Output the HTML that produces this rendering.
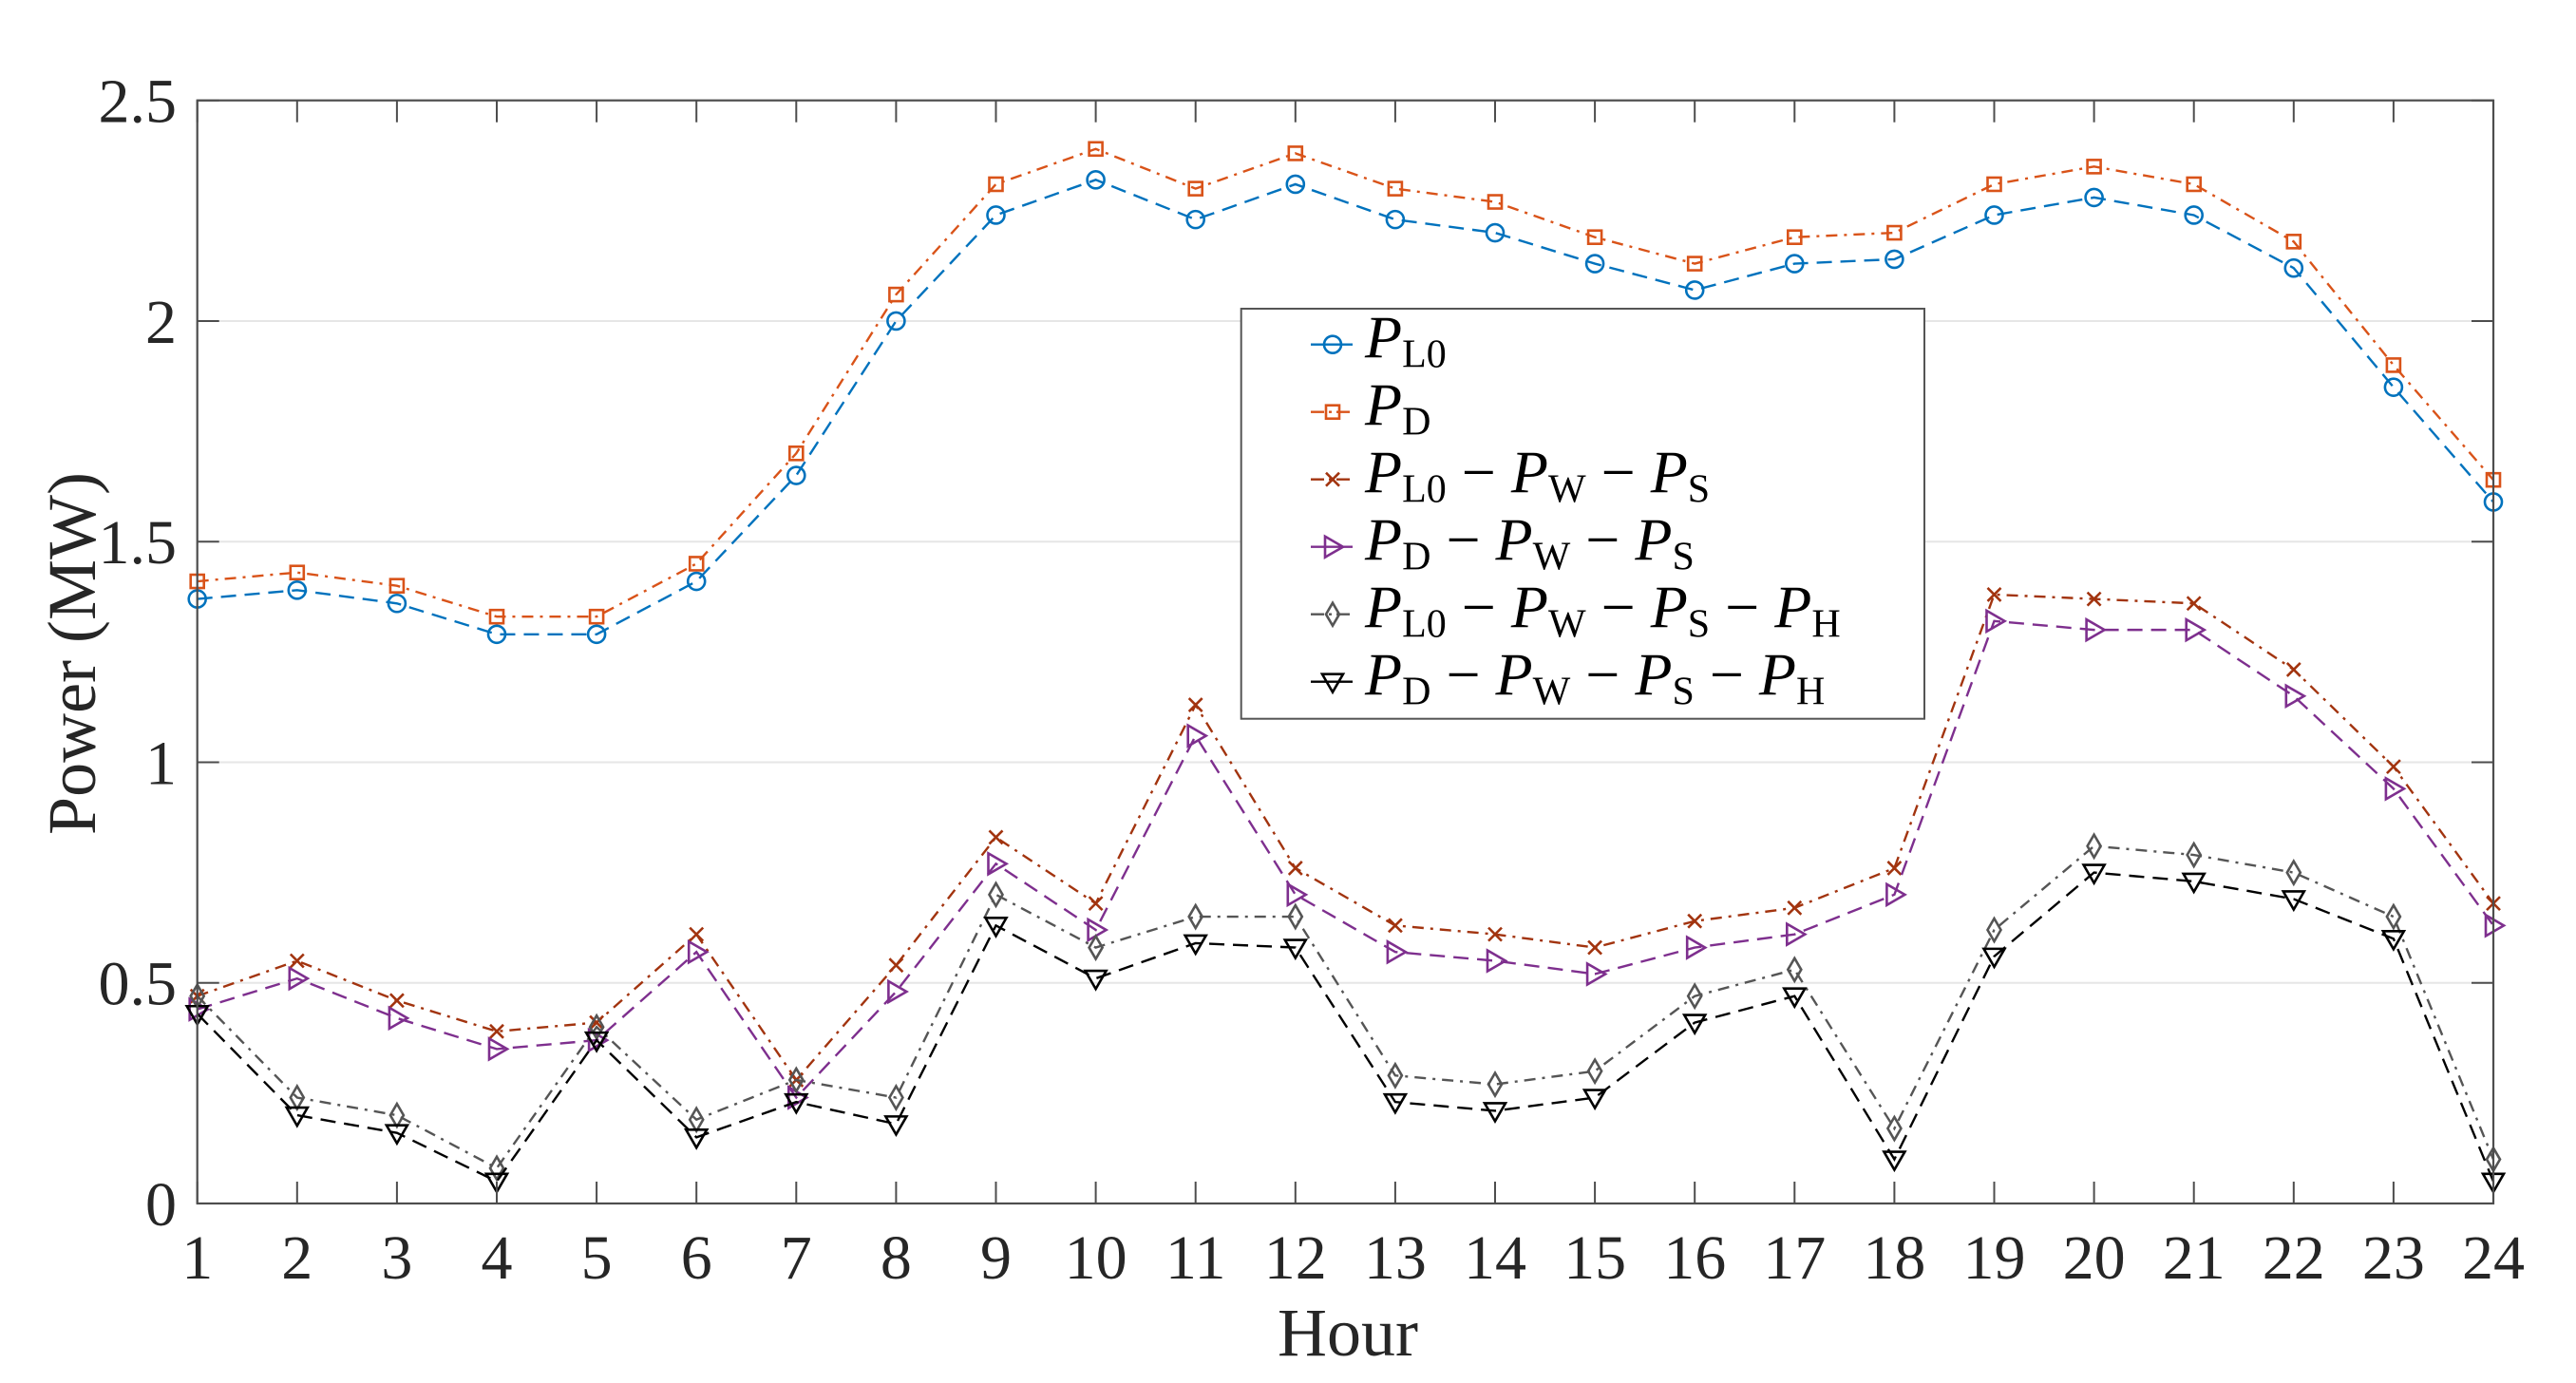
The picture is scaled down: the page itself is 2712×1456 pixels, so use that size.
<!DOCTYPE html>
<html><head><meta charset="utf-8"><style>
html,body{margin:0;padding:0;background:#fff;}
svg{display:block;}
text{font-family:"Liberation Serif","Times New Roman",serif;}
</style></head><body>
<svg id="chart" width="2712" height="1456" viewBox="0 0 2712 1456" xmlns="http://www.w3.org/2000/svg" font-family="Liberation Serif, serif">
<rect x="0" y="0" width="2712" height="1456" fill="#fff"/>
<g id="grid"></g>
<g id="series"></g>
<g id="axes"></g>
<text x="1419" y="1427" font-size="72" text-anchor="middle" fill="#262626">Hour</text>
<text transform="translate(100,688) rotate(-90)" font-size="72" text-anchor="middle" fill="#262626">Power (MW)</text>
<g id="legend"></g>
</svg>
<script>
const hours = [1,2,3,4,5,6,7,8,9,10,11,12,13,14,15,16,17,18,19,20,21,22,23,24];
const pL0 = [1.37,1.39,1.36,1.29,1.29,1.41,1.65,2.00,2.24,2.32,2.23,2.31,2.23,2.20,2.13,2.07,2.13,2.14,2.24,2.28,2.24,2.12,1.85,1.59];
const pD = [1.41,1.43,1.40,1.33,1.33,1.45,1.70,2.06,2.31,2.39,2.30,2.38,2.30,2.27,2.19,2.13,2.19,2.20,2.31,2.35,2.31,2.18,1.90,1.64];
const pL0WS = [0.47,0.55,0.46,0.39,0.41,0.61,0.28,0.54,0.83,0.68,1.13,0.76,0.63,0.61,0.58,0.64,0.67,0.76,1.38,1.37,1.36,1.21,0.99,0.68];
const pDWS = [0.44,0.51,0.42,0.35,0.37,0.57,0.24,0.48,0.77,0.62,1.06,0.70,0.57,0.55,0.52,0.58,0.61,0.70,1.32,1.30,1.30,1.15,0.94,0.63];
const pL0WSH = [0.47,0.24,0.20,0.08,0.40,0.19,0.28,0.24,0.70,0.58,0.65,0.65,0.29,0.27,0.30,0.47,0.53,0.17,0.62,0.81,0.79,0.75,0.65,0.10];
const pDWSH = [0.43,0.20,0.16,0.05,0.37,0.15,0.23,0.18,0.63,0.51,0.59,0.58,0.23,0.21,0.24,0.41,0.47,0.10,0.56,0.75,0.73,0.69,0.60,0.05];
const yTicks = [0,0.5,1,1.5,2,2.5];
const yTickLabels = ["0","0.5","1","1.5","2","2.5"];

const NS="http://www.w3.org/2000/svg";
const L=207.7,R=2625,T=105.7,B=1267;
const xMin=1,xMax=24,yMin=0,yMax=2.5;
function sx(v){return L+(v-xMin)/(xMax-xMin)*(R-L);}
function sy(v){return B-(v-yMin)/(yMax-yMin)*(B-T);}
function mk(tag,attrs,parent){const e=document.createElementNS(NS,tag);for(const k in attrs)e.setAttribute(k,attrs[k]);parent.appendChild(e);return e;}

const grid=document.getElementById('grid');
yTicks.forEach((t,i)=>{
  if(t>yMin&&t<yMax){
    const g=mk('line',{x1:L,x2:R,y1:sy(t),y2:sy(t),stroke:'#e6e6e6','stroke-width':2},grid);
    
    
  }
});

const DASH="16 9", DASHDOT="12 7 3 7";
const seriesDefs=[
 {name:'p-l0',data:pL0,color:'#0072BD',dash:DASH,marker:'circle'},
 {name:'p-d',data:pD,color:'#D95319',dash:DASHDOT,marker:'square'},
 {name:'p-l0-w-s',data:pL0WS,color:'#A2340F',dash:DASHDOT,marker:'x'},
 {name:'p-d-w-s',data:pDWS,color:'#7E2F8E',dash:DASH,marker:'tri-right'},
 {name:'p-l0-w-s-h',data:pL0WSH,color:'#555555',dash:DASHDOT,marker:'diamond'},
 {name:'p-d-w-s-h',data:pDWSH,color:'#000000',dash:DASH,marker:'tri-down'}
];
function drawMarker(type,x,y,color,parent){
  let e;
  const a={fill:'none',stroke:color,'stroke-width':2.6};
  if(type==='circle'){a.cx=x;a.cy=y;a.r=9;e=mk('circle',a,parent);}
  else if(type==='square'){a.x=x-7;a.y=y-7;a.width=14;a.height=14;e=mk('rect',a,parent);}
  else if(type==='x'){a.d=`M${x-7},${y-7}L${x+7},${y+7}M${x-7},${y+7}L${x+7},${y-7}`;e=mk('path',a,parent);}
  else if(type==='tri-right'){a.points=`${x-8},${y-11} ${x+11},${y} ${x-8},${y+11}`;e=mk('polygon',a,parent);}
  else if(type==='diamond'){a.points=`${x},${y-12} ${x+7},${y} ${x},${y+12} ${x-7},${y}`;e=mk('polygon',a,parent);}
  else {a.points=`${x-11},${y-8} ${x+11},${y-8} ${x},${y+11}`;e=mk('polygon',a,parent);}
  return e;
}
const sg=document.getElementById('series');
seriesDefs.forEach(s=>{
  const g=mk('g',{},sg);
  
  
  const pts=s.data.map((v,i)=>sx(hours[i])+','+sy(v)).join(' ');
  const pl=mk('polyline',{points:pts,fill:'none',stroke:s.color,'stroke-width':2.4,'stroke-dasharray':s.dash},g);
  
  
  s.data.forEach((v,i)=>{
    const m=drawMarker(s.marker,sx(hours[i]),sy(v),s.color,g);
    
    
  });
});

const ax=document.getElementById('axes');
const box=mk('rect',{x:L,y:T,width:R-L,height:B-T,fill:'none',stroke:'#4d4d4d','stroke-width':2.2},ax);


hours.forEach(h=>{
  const x=sx(h);
  const t1=mk('line',{x1:x,x2:x,y1:B,y2:B-23,stroke:'#4d4d4d','stroke-width':2},ax);
  
  
  const t2=mk('line',{x1:x,x2:x,y1:T,y2:T+23,stroke:'#4d4d4d','stroke-width':2},ax);
  
  
  const lb=mk('text',{x:x,y:1346,'font-size':66,'text-anchor':'middle',fill:'#262626'},ax);
  lb.textContent=String(h);
  
  
});
yTicks.forEach((t,i)=>{
  const y=sy(t);
  const t1=mk('line',{x1:L,x2:L+23,y1:y,y2:y,stroke:'#4d4d4d','stroke-width':2},ax);
  
  
  const t2=mk('line',{x1:R,x2:R-23,y1:y,y2:y,stroke:'#4d4d4d','stroke-width':2},ax);
  
  
  const lb=mk('text',{x:186,y:y+23,'font-size':66,'text-anchor':'end',fill:'#262626'},ax);
  lb.textContent=yTickLabels[i];
  
  
});

// legend
const lg=document.getElementById('legend');
const lbox=mk('rect',{x:1306.7,y:325,width:2026-1306.7,height:756.7-325,fill:'#fff',stroke:'#555','stroke-width':2},lg);


const legendTerms=[['L0'],['D'],['L0','W','S'],['D','W','S'],['L0','W','S','H'],['D','W','S','H']];
seriesDefs.forEach((s,i)=>{
  const base=376.7+i*71, my=base-14;
  const g=mk('g',{},lg);
  
  
  mk('line',{x1:1380,x2:1424,y1:my,y2:my,stroke:s.color,'stroke-width':2.4,'stroke-dasharray':s.dash==DASH?'44 0':'14 5 3 5'},g);
  drawMarker(s.marker,1403,my,s.color,g);
  const tx=mk('text',{x:1437,y:base,'font-size':64,fill:'#000'},g);
  legendTerms[i].forEach((term,j)=>{
    if(j>0){const m=document.createElementNS(NS,'tspan');m.setAttribute('dy','-10');m.textContent='\u00a0\u2212\u00a0';tx.appendChild(m);}
    const p=document.createElementNS(NS,'tspan');p.setAttribute('font-style','italic');p.textContent='P';
    tx.appendChild(p);
    const sub=document.createElementNS(NS,'tspan');sub.setAttribute('font-size','42');sub.setAttribute('dy','10');sub.textContent=term;tx.appendChild(sub);
  });
});
</script>
</body></html>
